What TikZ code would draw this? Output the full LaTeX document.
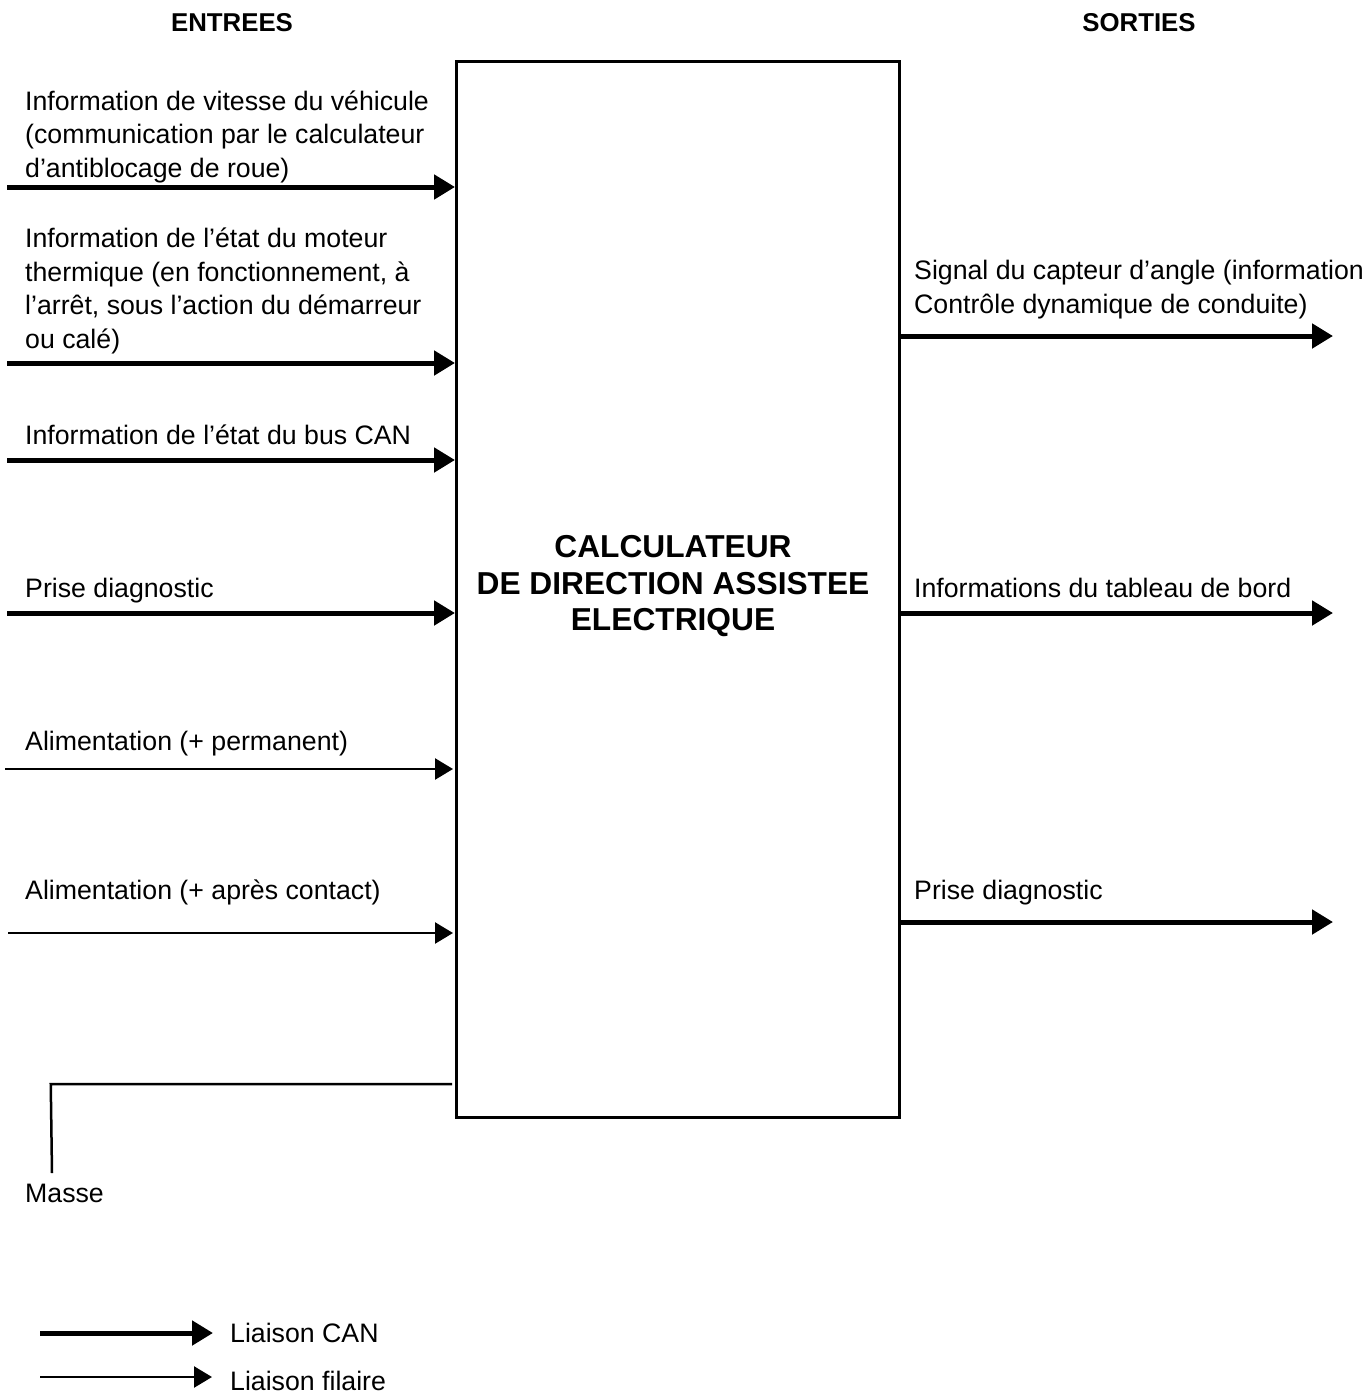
\documentclass[tikz,border=0pt]{standalone}
\usepackage{fontspec}
\setmainfont{Liberation Sans}
\usetikzlibrary{arrows.meta}
\begin{document}
\begin{tikzpicture}[x=1pt,y=-1pt,
  lbl/.style={anchor=base west, inner sep=0pt, align=left, font=\fontsize{26.7}{33.5}\selectfont},
  hdr/.style={anchor=base, inner sep=0pt, font=\fontsize{25.8}{30}\selectfont\bfseries},
  can/.style={line width=5pt, -{Triangle[length=21pt,width=24pt]}},
  wire/.style={line width=2.5pt, -{Triangle[length=18pt,width=21pt]}},
  plain/.style={line width=2.5pt}]
\useasboundingbox (0,0) rectangle (1369,1395);
\node[draw, line width=2.5pt, minimum width=443pt, minimum height=1056pt, anchor=north west, inner sep=0pt] (ecu) at (455,60) {};
\node[inner sep=0pt, align=center, font=\fontsize{31.7}{36.5}\selectfont\bfseries] (ttl) at (673,586.5)
  {CALCULATEUR\\DE DIRECTION ASSISTEE\\ELECTRIQUE};
\node[hdr] (hin) at (232,31) {ENTREES};
\node[hdr] (hout) at (1139,31) {SORTIES};
% inputs
\node[lbl] (t1) at (25,177) {Information de vitesse du véhicule\\(communication par le calculateur\\d’antiblocage de roue)};
\node[lbl] (t2) at (25,348) {Information de l’état du moteur\\thermique (en fonctionnement, à\\l’arrêt, sous l’action du démarreur\\ou calé)};
\node[lbl] (t3) at (25,444) {Information de l’état du bus CAN};
\node[lbl] (t4) at (25,597) {Prise diagnostic};
\node[lbl] (t5) at (25,750) {Alimentation (+ permanent)};
\node[lbl] (t6) at (25,899) {Alimentation (+ après contact)};
\node[lbl] (t7) at (25,1202) {Masse};
% outputs
\node[lbl] (u1) at (914,313) {Signal du capteur d’angle (information\\Contrôle dynamique de conduite)};
\node[lbl] (u2) at (914,597) {Informations du tableau de bord};
\node[lbl] (u3) at (914,899) {Prise diagnostic};
% connector ends
\coordinate (i1) at (7,187);
\coordinate (i2) at (7,363);
\coordinate (i3) at (7,460);
\coordinate (i4) at (7,613);
\coordinate (i5) at (5,769);
\coordinate (i6) at (8,933);
\coordinate (mk) at (52,1084);
\coordinate (me) at (52,1173);
\coordinate (o1) at (1333,336);
\coordinate (o2) at (1333,613);
\coordinate (o3) at (1333,922);
\draw[can] (i1) -- (i1 -| ecu.west);
\draw[can] (i2) -- (i2 -| ecu.west);
\draw[can] (i3) -- (i3 -| ecu.west);
\draw[can] (i4) -- (i4 -| ecu.west);
\draw[wire] (i5) -- ([xshift=-2pt]i5 -| ecu.west);
\draw[wire] (i6) -- ([xshift=-2pt]i6 -| ecu.west);
\draw[plain] ([xshift=-3pt]mk -| ecu.west) -- ([xshift=-1.25pt]mk) -- (me);
\draw[can] (o1 -| ecu.east) -- (o1);
\draw[can] (o2 -| ecu.east) -- (o2);
\draw[can] (o3 -| ecu.east) -- (o3);
% legend
\node[lbl] (lc) at (230,1342) {Liaison CAN};
\node[lbl] (lf) at (230,1390) {Liaison filaire};
\coordinate (lcs) at (40,1333);
\coordinate (lfs) at (40,1377);
\draw[can] (lcs) -- ([xshift=-17pt]lcs -| lc.west);
\draw[wire] (lfs) -- ([xshift=-18pt]lfs -| lf.west);
\end{tikzpicture}
\end{document}
